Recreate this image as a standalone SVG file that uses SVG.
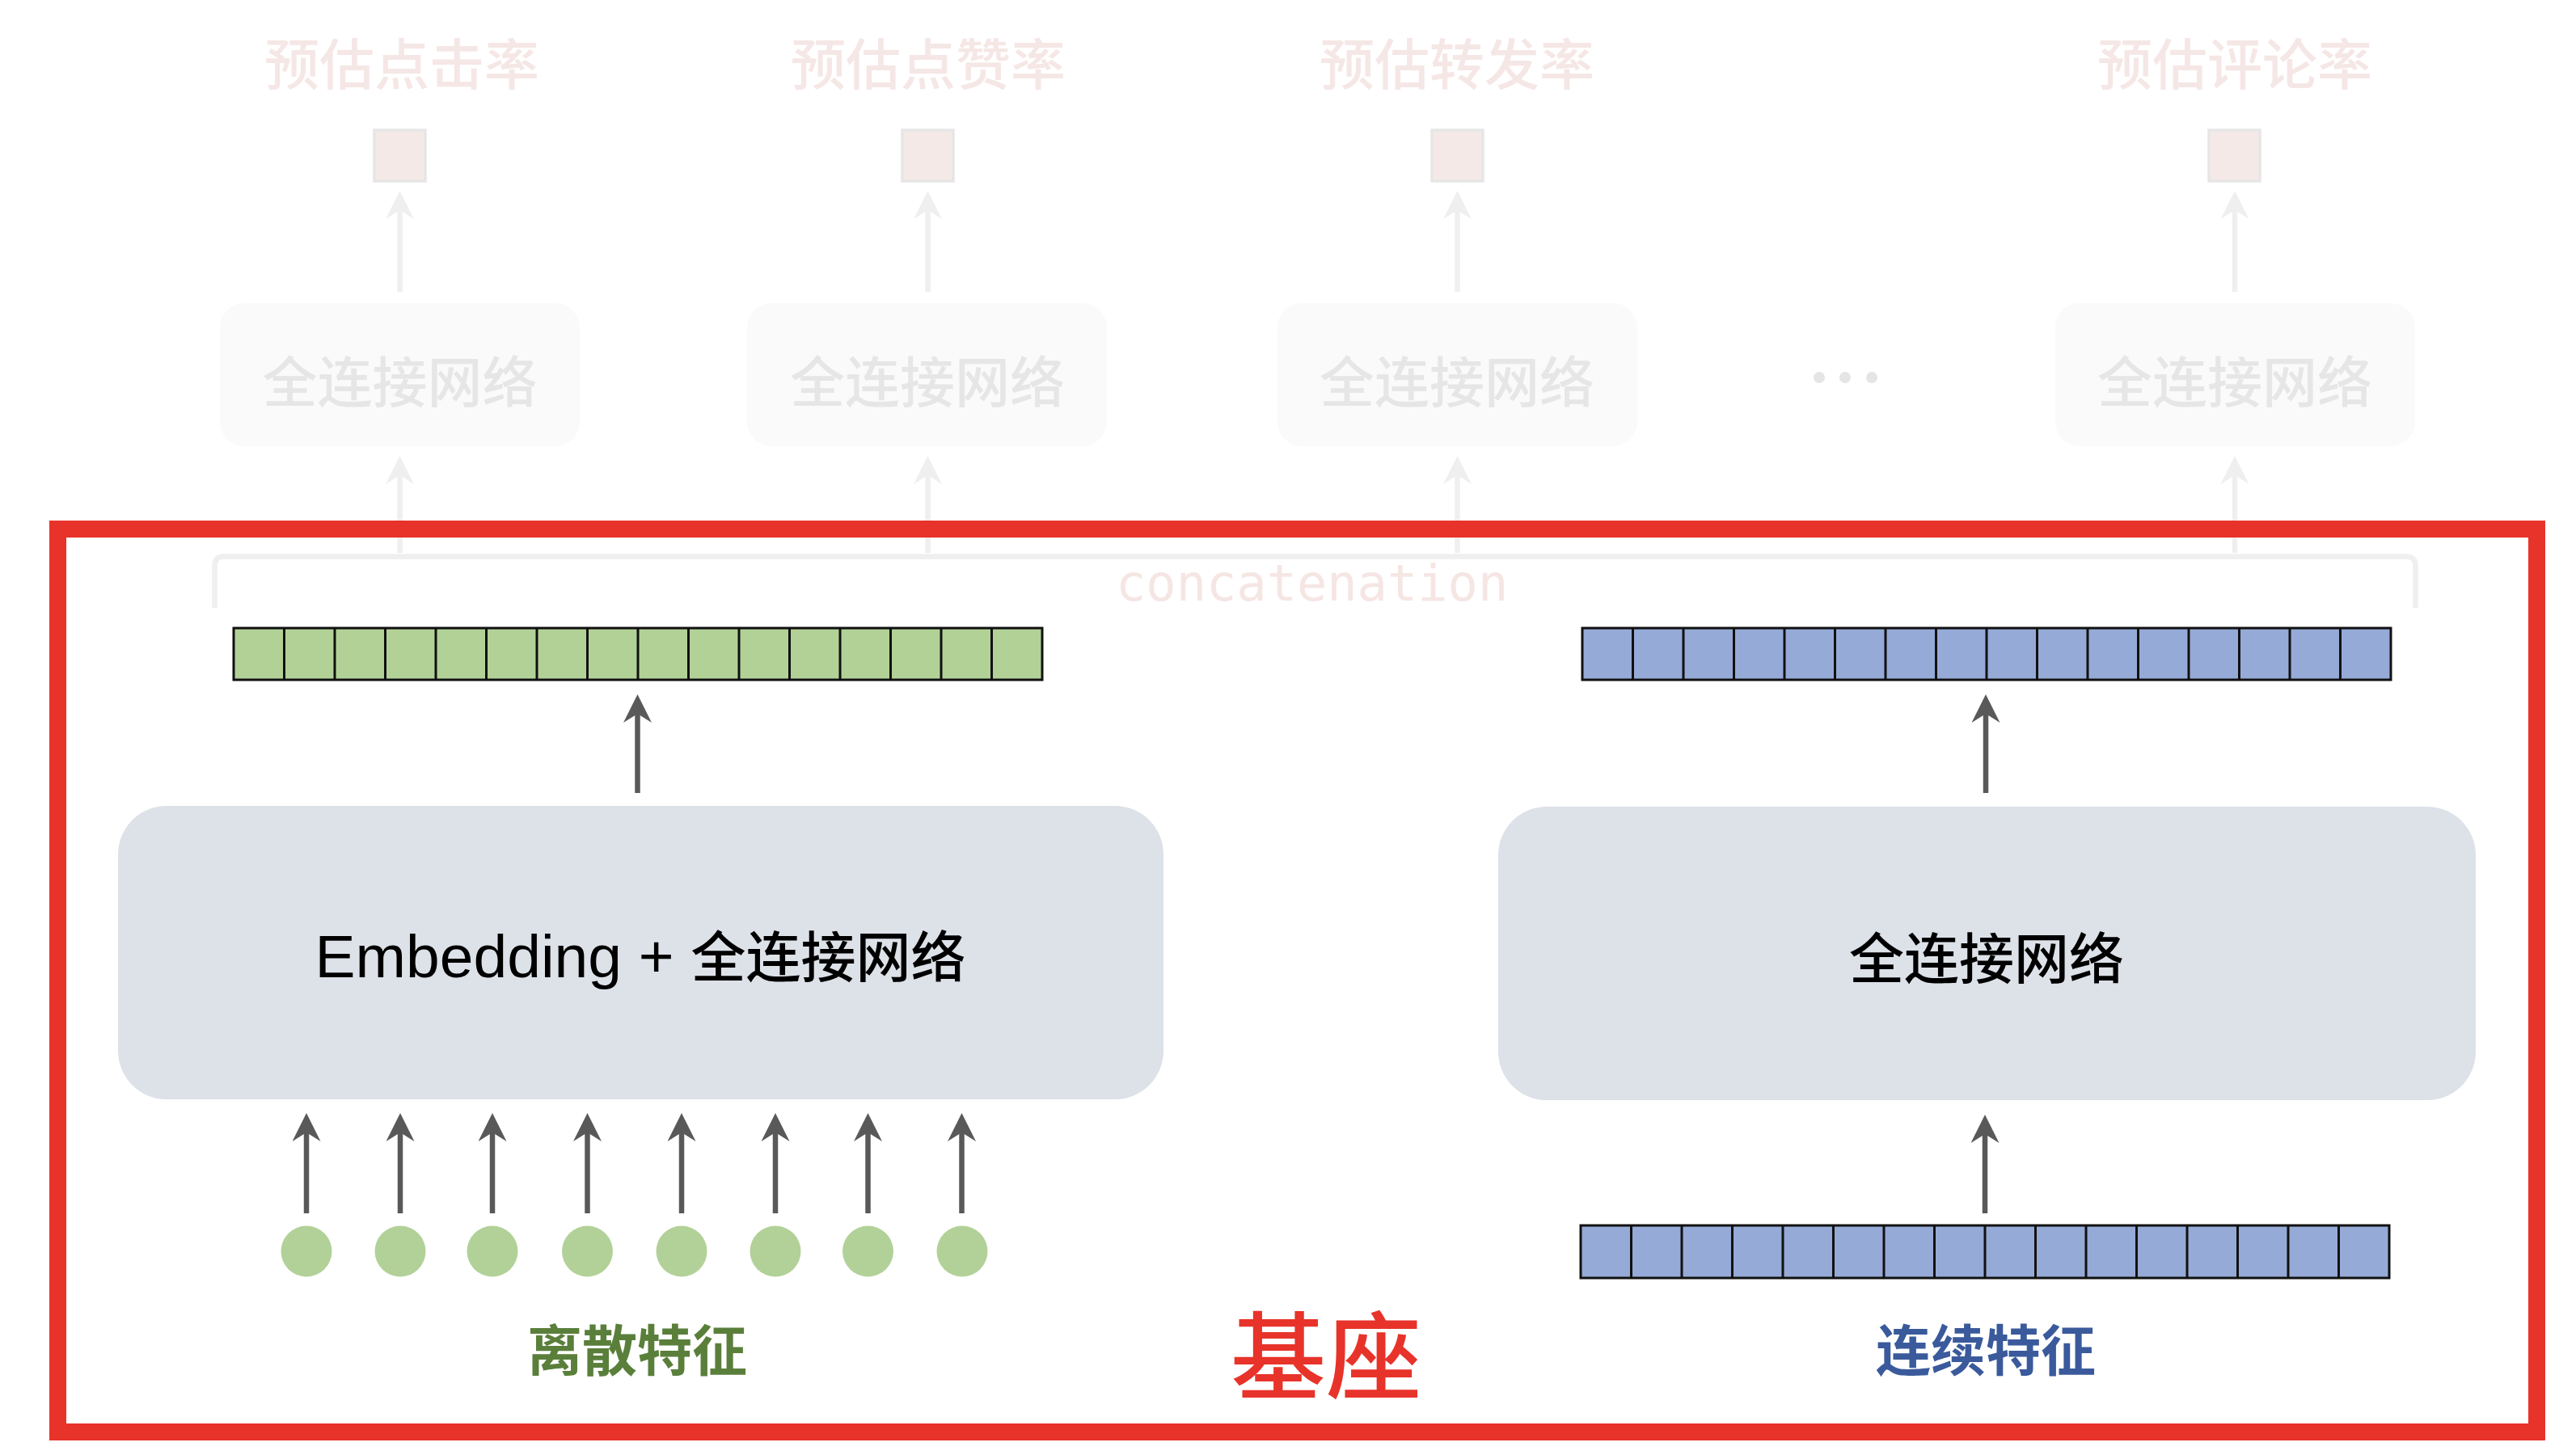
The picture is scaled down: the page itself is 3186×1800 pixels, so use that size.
<svg xmlns="http://www.w3.org/2000/svg" xmlns:xlink="http://www.w3.org/1999/xlink" width="3186" height="1800" viewBox="0 0 3186 1800">
<style>
.cjk{font-family:"Noto Sans CJK SC","Liberation Sans",sans-serif;text-anchor:middle}
.title{font-size:68px;fill:#f5e7e5;font-weight:500}
.ftxt{font-size:68px;fill:#e6e6e6;font-weight:500}
.fbox{fill:#fafafa}
.sq{fill:#f5e9e8;stroke:#e6e6e6;stroke-width:3.5}
.fl{stroke:#efefef;stroke-width:6.5;fill:none}
.dl{stroke:#595959;stroke-width:6.5;fill:none}
.box{fill:#dde1e8}
.vec{stroke:#111;stroke-width:3}
.green{fill:#b2d197}
.blue{fill:#96aad7}
.dot{fill:#b2d198}
.btxt{font-size:68px;fill:#000;font-weight:500}
</style>
<defs>
<marker id="ah" markerUnits="userSpaceOnUse" markerWidth="36" markerHeight="36" refX="12" refY="17.5" orient="auto">
<path d="M0,0 L35,17.5 L0,35 L11,17.5 Z" fill="#595959"/>
</marker>
<marker id="ahl" markerUnits="userSpaceOnUse" markerWidth="36" markerHeight="36" refX="12" refY="17.5" orient="auto">
<path d="M0,0 L35,17.5 L0,35 L11,17.5 Z" fill="#efefef"/>
</marker>
<path id="div" d="M62.5,0V64M125,0V64M187.5,0V64M250,0V64M312.5,0V64M375,0V64M437.5,0V64M500,0V64M562.5,0V64M625,0V64M687.5,0V64M750,0V64M812.5,0V64M875,0V64M937.5,0V64" class="vec"/>
</defs>
<rect width="3186" height="1800" fill="#fff"/>

<g id="head1">
<text class="cjk title" x="497" y="105">预估点击率</text>
<rect class="sq" x="463" y="161" width="63" height="63"/>
</g>
<g id="head2">
<text class="cjk title" x="1148" y="105">预估点赞率</text>
<rect class="sq" x="1116" y="161" width="63" height="63"/>
</g>
<g id="head3">
<text class="cjk title" x="1802" y="105">预估转发率</text>
<rect class="sq" x="1771" y="161" width="63" height="63"/>
</g>
<g id="head4">
<text class="cjk title" x="2764" y="105">预估评论率</text>
<rect class="sq" x="2732" y="161" width="63" height="63"/>
</g>

<g id="fc1">
<rect class="fbox" x="272" y="375" width="445" height="177" rx="30"/>
<text class="cjk ftxt" x="494.5" y="498">全连接网络</text>
</g>
<g id="fc2">
<rect class="fbox" x="924" y="375" width="445" height="177" rx="30"/>
<text class="cjk ftxt" x="1147" y="498">全连接网络</text>
</g>
<g id="fc3">
<rect class="fbox" x="1580" y="375" width="445" height="177" rx="30"/>
<text class="cjk ftxt" x="1802" y="498">全连接网络</text>
</g>
<g id="ellipsis">
<circle cx="2250" cy="467" r="7" fill="#e5e5e5"/>
<circle cx="2282" cy="467" r="7" fill="#e5e5e5"/>
<circle cx="2315" cy="467" r="7" fill="#e5e5e5"/>
</g>
<g id="fc4">
<rect class="fbox" x="2542" y="375" width="445" height="177" rx="30"/>
<text class="cjk ftxt" x="2764" y="498">全连接网络</text>
</g>

<g id="connectors">
<line class="fl" x1="494.5" y1="361" x2="494.5" y2="259" marker-end="url(#ahl)"/>
<line class="fl" x1="1147.5" y1="361" x2="1147.5" y2="259" marker-end="url(#ahl)"/>
<line class="fl" x1="1802.5" y1="361" x2="1802.5" y2="259" marker-end="url(#ahl)"/>
<line class="fl" x1="2764" y1="361" x2="2764" y2="259" marker-end="url(#ahl)"/>
<line class="fl" x1="494.5" y1="684" x2="494.5" y2="587" marker-end="url(#ahl)"/>
<line class="fl" x1="1147.5" y1="684" x2="1147.5" y2="587" marker-end="url(#ahl)"/>
<line class="fl" x1="1802.5" y1="684" x2="1802.5" y2="587" marker-end="url(#ahl)"/>
<line class="fl" x1="2764" y1="684" x2="2764" y2="587" marker-end="url(#ahl)"/>

<line class="dl" x1="788.5" y1="981" x2="788.5" y2="882" marker-end="url(#ah)"/>
<line class="dl" x1="2456" y1="981" x2="2456" y2="882" marker-end="url(#ah)"/>
<line class="dl" x1="2455" y1="1501" x2="2455" y2="1402" marker-end="url(#ah)"/>
<line class="dl" x1="379" y1="1501" x2="379" y2="1400" marker-end="url(#ah)"/>
<line class="dl" x1="495" y1="1501" x2="495" y2="1400" marker-end="url(#ah)"/>
<line class="dl" x1="609" y1="1501" x2="609" y2="1400" marker-end="url(#ah)"/>
<line class="dl" x1="726.5" y1="1501" x2="726.5" y2="1400" marker-end="url(#ah)"/>
<line class="dl" x1="843" y1="1501" x2="843" y2="1400" marker-end="url(#ah)"/>
<line class="dl" x1="959" y1="1501" x2="959" y2="1400" marker-end="url(#ah)"/>
<line class="dl" x1="1073.5" y1="1501" x2="1073.5" y2="1400" marker-end="url(#ah)"/>
<line class="dl" x1="1189.5" y1="1501" x2="1189.5" y2="1400" marker-end="url(#ah)"/>
</g>

<g id="concat">
<path class="fl" d="M265.5,752 L265.5,700 Q265.5,688.5 277,688.5 L2976,688.5 Q2987.5,688.5 2987.5,700 L2987.5,752"/>
<text x="1380" y="743" font-family="'DejaVu Sans Mono','Liberation Mono',monospace" font-size="62" fill="#f5e6e4">concatenation</text>
</g>

<g id="green-vector">
<rect class="vec green" x="289" y="777" width="1000" height="64"/>
<use xlink:href="#div" x="289" y="777"/>
</g>
<g id="blue-vector-top">
<rect class="vec blue" x="1957" y="777" width="1000" height="64"/>
<use xlink:href="#div" x="1957" y="777"/>
</g>

<g id="embedding-box">
<rect class="box" x="146" y="997" width="1293" height="363" rx="60"/>
<text x="792" y="1209" text-anchor="middle" font-family="'Liberation Sans','Noto Sans CJK SC',sans-serif" fill="#000"><tspan font-size="75">Embedding + </tspan><tspan font-size="68" font-weight="500" font-family="'Noto Sans CJK SC',sans-serif">全连接网络</tspan></text>
</g>
<g id="fc-box">
<rect class="box" x="1853" y="998" width="1209" height="363" rx="60"/>
<text class="cjk btxt" x="2457" y="1211">全连接网络</text>
</g>

<g id="discrete-features">
<circle class="dot" cx="379" cy="1548" r="31.5"/>
<circle class="dot" cx="495" cy="1548" r="31.5"/>
<circle class="dot" cx="609" cy="1548" r="31.5"/>
<circle class="dot" cx="726.5" cy="1548" r="31.5"/>
<circle class="dot" cx="843" cy="1548" r="31.5"/>
<circle class="dot" cx="959" cy="1548" r="31.5"/>
<circle class="dot" cx="1073.5" cy="1548" r="31.5"/>
<circle class="dot" cx="1190" cy="1548" r="31.5"/>
<text class="cjk" x="788" y="1696" font-size="68" font-weight="700" fill="#5a7f3b">离散特征</text>
</g>

<g id="continuous-features">
<rect class="vec blue" x="1955" y="1516" width="1000" height="65"/>
<use xlink:href="#div" x="1955" y="1516.5"/>
<text class="cjk" x="2456" y="1696" font-size="68" font-weight="700" fill="#3a5a9c">连续特征</text>
</g>

<g id="base-frame">
<rect x="71.5" y="654.5" width="3066" height="1117" fill="none" stroke="#e8332a" stroke-width="21"/>
<text class="cjk" x="1640" y="1722" font-size="118" font-weight="500" fill="#e8332a">基座</text>
</g>
</svg>
